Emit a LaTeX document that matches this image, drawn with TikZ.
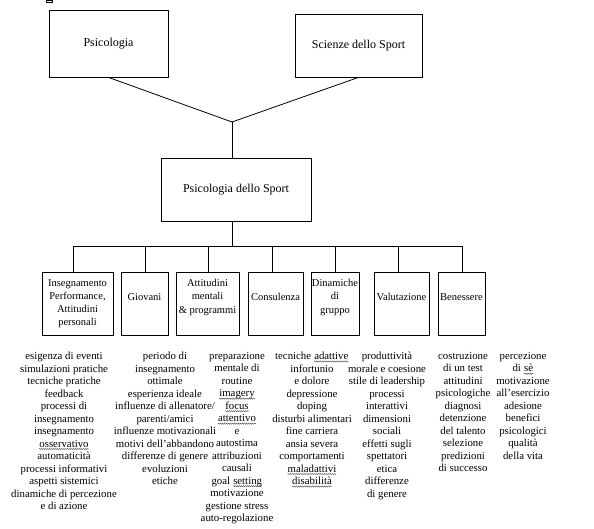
\documentclass[tikz,border=0pt]{standalone}
\usepackage{fontspec}
\setmainfont{Liberation Serif}
\usetikzlibrary{positioning,calc,decorations.pathmorphing}

% spell-check squiggle under a word
\newcommand{\wavy}[1]{\tikz[baseline=(w.base), x=1pt, y=1pt]{%
    \node[inner sep=0pt] (w) {#1};
    \draw[black!70, line width=0.4pt, decorate,
        decoration={snake, amplitude=0.6pt, segment length=2pt}]
        ([yshift=-1.8pt]w.base west) -- ([yshift=-1.8pt]w.base east);}}

\begin{document}
\begin{tikzpicture}[x=1pt, y=-1pt,
    field/.style={rectangle, draw, line width=0.8pt, inner sep=0pt,
        font=\fontsize{12}{14}\selectfont},
    area/.style={rectangle, draw, line width=0.8pt, inner sep=0pt,
        minimum height=63pt},
    areatext/.style={align=center, inner sep=0pt, font=\fontsize{10.5}{13.3}\selectfont},
    topics/.style={anchor=north, align=center, inner sep=0pt,
        font=\fontsize{10.8}{12.5}\selectfont},
    link/.style={line width=0.8pt}
]
    \useasboundingbox (0,0) rectangle (594,528);
    \draw[line width=0.6pt] (46,0) rectangle (52,2.5);

    % root fields
    \node[field, minimum width=119pt, minimum height=67pt] (psi) at (108.5,43.5) {Psicologia};
    \node[field, minimum width=127pt, minimum height=63pt] (sci) at (358.5,45.5) {Scienze dello Sport};
    \node[field, minimum width=150pt, minimum height=63pt] (psd) at (236,189.5) {Psicologia dello Sport};

    \coordinate (join) at (232,122);
    \draw[link] (psi.south) -- (join) -- (sci.south);
    \draw[link] (join) -- (join |- psd.north);

    % areas
    \node[area, minimum width=71pt] (a1) at (77.5,303.5) {};
    \node[area, minimum width=47pt] (a2) at (144.5,303.5) {};
    \node[area, minimum width=63pt] (a3) at (207.5,303.5) {};
    \node[area, minimum width=55pt] (a4) at (275.5,303.5) {};
    \node[area, minimum width=48pt] (a5) at (335,303.5) {};
    \node[area, minimum width=55pt] (a6) at (401.5,303.5) {};
    \node[area, minimum width=47pt] (a7) at (461.5,303.5) {};

    \node[areatext, anchor=north] (l1) at (a1.center |- 0,279) {Insegnamento\\Performance,\\Attitudini\\personali};
    \node[areatext, anchor=base] (l2) at (a2.center |- 0,300) {Giovani};
    \node[areatext, anchor=north] (l3) at (a3.center |- 0,279) {Attitudini\\mentali\\\& programmi};
    \node[areatext, anchor=base] (l4) at (a4.center |- 0,300) {Consulenza};
    \node[areatext, anchor=north] (l5) at (a5.center |- 0,279) {Dinamiche\\di\\gruppo};
    \node[areatext, anchor=base] (l6) at (a6.center |- 0,300) {Valutazione};
    \node[areatext, anchor=base] (l7) at (a7.center |- 0,300) {Benessere};

    \coordinate (bus) at (232,246);
    \draw[link] (psd.south -| bus) -- (bus);
    \draw[link] (73,246) coordinate (d1) -- (462,246) coordinate (d7);
    \foreach \i/\xd in {1/73, 2/145, 3/208, 4/272, 5/335, 6/398, 7/462}
        \draw[link] (\xd,246) -- (\xd,246 |- a\i.north);

    % topics
    \node[topics] (t1) at (64,352) {esigenza di eventi\\simulazioni pratiche\\tecniche pratiche\\feedback\\processi di\\insegnamento\\insegnamento\\\wavy{osservativo}\\automaticità\\processi informativi\\aspetti sistemici\\dinamiche di percezione\\e di azione};
    \node[topics] (t2) at (165,352) {periodo di\\insegnamento\\ottimale\\esperienza ideale\\influenze di allenatore/\\parenti/amici\\influenze motivazionali\\motivi dell'abbandono\\differenze di genere\\evoluzioni\\etiche};
    \node[topics] (t3) at (237,352) {preparazione\\mentale di\\routine\\\wavy{imagery}\\\wavy{focus}\\\wavy{attentivo}\\e\\autostima\\attribuzioni\\causali\\goal \wavy{setting}\\motivazione\\gestione stress\\auto-regolazione};
    \node[topics] (t4) at (312,352) {tecniche \wavy{adattive}\\infortunio\\e dolore\\depressione\\doping\\disturbi alimentari\\fine carriera\\ansia severa\\comportamenti\\\wavy{maladattivi}\\\wavy{disabilità}};
    \node[topics] (t5) at (387,352) {produttività\\morale e coesione\\stile di leadership\\processi\\interattivi\\dimensioni\\sociali\\effetti sugli\\spettatori\\etica\\differenze\\di genere};
    \node[topics] (t6) at (463,352) {costruzione\\di un test\\attitudini\\psicologiche\\diagnosi\\detenzione\\del talento\\selezione\\predizioni\\di successo};
    \node[topics] (t7) at (523,352) {percezione\\di \wavy{sè}\\motivazione\\all'esercizio\\adesione\\benefici\\psicologici\\qualità\\della vita};
\end{tikzpicture}
\end{document}
